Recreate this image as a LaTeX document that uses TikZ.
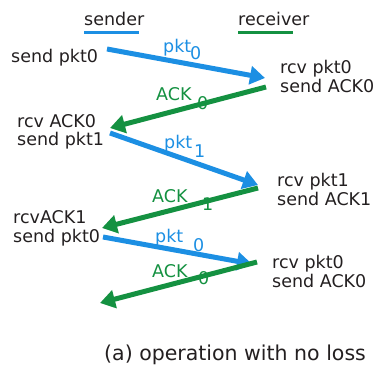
\documentclass[tikz,border=0pt]{standalone}
\usepackage{fontspec}
\setmainfont{DejaVu Sans}
\usetikzlibrary{arrows.meta}
\definecolor{pktblue}{RGB}{28,143,227}
\definecolor{ackgreen}{RGB}{20,145,65}
\definecolor{ink}{RGB}{35,31,32}
\begin{document}
\begin{tikzpicture}[x=1bp,y=-1bp,
  txt/.style={font=\fontsize{17.5bp}{19bp}\selectfont, inner sep=0pt, anchor=base west, text=ink},
  bluetxt/.style={txt, text=pktblue},
  greentxt/.style={txt, text=ackgreen},
  pktmsg/.style={draw=pktblue, line width=5bp, -{Triangle[length=15bp,width=18bp]}, fill=pktblue},
  ackmsg/.style={draw=ackgreen, line width=5bp, -{Triangle[length=15bp,width=18bp]}, fill=ackgreen}
]
\useasboundingbox (0,0) rectangle (378,372);

% column headers
\node[txt] (hs) at (84,25) {sender};
\node[txt] (hr) at (238,25) {receiver};
\draw[pktblue, line width=3bp] (84,32) -- (139,32);
\draw[ackgreen, line width=3bp] (238,32) -- (293,32);

% sender side events
\node[txt] (s0) at (11,62) {send pkt0};
\node[txt] (s1a) at (17,127) {rcv ACK0};
\node[txt] (s1b) at (17,145) {send pkt1};
\node[txt] (s2a) at (13,223) {rcvACK1};
\node[txt] (s2b) at (13,242) {send pkt0};

% receiver side events
\node[txt] (r0a) at (280,73) {rcv pkt0};
\node[txt] (r0b) at (280,92) {send ACK0};
\node[txt] (r1a) at (277,186) {rcv pkt1};
\node[txt] (r1b) at (277,205) {send ACK1};
\node[txt] (r2a) at (272,268) {rcv pkt0};
\node[txt] (r2b) at (272,287) {send ACK0};

% message end points
\coordinate (m1s) at (107,49);  \coordinate (m1e) at (265,78);
\coordinate (m2s) at (266,87);  \coordinate (m2e) at (110,128);
\coordinate (m3s) at (110,133); \coordinate (m3e) at (258,185);
\coordinate (m4s) at (258,188); \coordinate (m4e) at (102,228);
\coordinate (m5s) at (103,237); \coordinate (m5e) at (252,264);
\coordinate (m6s) at (257,262); \coordinate (m6e) at (100,303);

% messages
\draw[pktmsg] (m1s) -- (m1e);
\draw[ackmsg] (m2s) -- (m2e);
\draw[pktmsg] (m3s) -- (m3e);
\draw[ackmsg] (m4s) -- (m4e);
\draw[pktmsg] (m5s) -- (m5e);
\draw[ackmsg] (m6s) -- (m6e);

% message labels
\node[bluetxt] (l1) at (163,52) {pkt};
\node[bluetxt] (l1n) at (190,59) {0};
\node[greentxt] (l2) at (156,100) {ACK};
\node[greentxt] (l2n) at (197,109) {0};
\node[bluetxt] (l3) at (164,148) {pkt};
\node[bluetxt] (l3n) at (194,157) {1};
\node[greentxt] (l4) at (152,202) {ACK};
\node[greentxt] (l4n) at (202,210) {1};
\node[bluetxt] (l5) at (155,242) {pkt};
\node[bluetxt] (l5n) at (193,251) {0};
\node[greentxt] (l6) at (152,277) {ACK};
\node[greentxt] (l6n) at (198,284) {0};

% caption
\node[txt, font=\fontsize{20.5bp}{22bp}\selectfont] (cap) at (104,360) {(a) operation with no loss};
\end{tikzpicture}
\end{document}
